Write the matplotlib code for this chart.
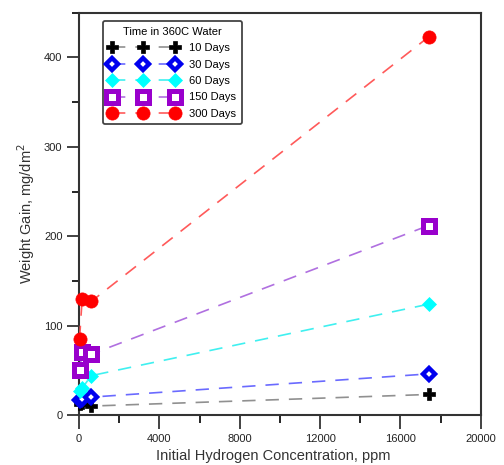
import matplotlib.pyplot as plt
from matplotlib.ticker import MultipleLocator

plt.rcParams['font.family'] = ['Liberation Sans', 'DejaVu Sans']

# initial hydrogen concentration, ppm
h_conc = [20, 150, 600, 17400]

# weight gain, mg/dm2, per exposure time
gain_10 = [12, 13, 10, 23]
gain_30 = [17, 18, 20, 46]
gain_60 = [27, 30, 44, 124]
gain_150 = [50, 70, 68, 212]
gain_300 = [85, 130, 127, 423]

labels = ['10 Days', '30 Days', '60 Days', '150 Days', '300 Days']

fig = plt.figure(figsize=(5.04, 4.65), dpi=100)
ax = fig.add_axes([0.157, 0.1075, 0.797, 0.865])

styles = [
    dict(color='#909090', marker='P', ms=9, mfc='black', mec='black', mew=0.5),
    dict(color='#6a6aff', marker='D', ms=6.5, mfc='white', mec='#0000ee', mew=3.2),
    dict(color='#40f0f0', marker='D', ms=7, mfc='#00ffff', mec='#00ffff', mew=0.5),
    dict(color='#b070e0', marker='s', ms=8.5, mfc='white', mec='#9900cc', mew=3.6),
    dict(color='#ff5a5a', marker='o', ms=9.5, mfc='#ff0000', mec='#ff0000', mew=0.5),
]

series = [gain_10, gain_30, gain_60, gain_150, gain_300]
for vals, lab, st in zip(series, labels, styles):
    ax.plot(h_conc, vals, linestyle=(0, (8, 6)), lw=1.2, label=lab,
            clip_on=False, zorder=3, **st)

ax.set_xlim(0, 20000)
ax.set_ylim(0, 450)
ax.xaxis.set_major_locator(MultipleLocator(4000))
ax.xaxis.set_minor_locator(MultipleLocator(2000))
ax.yaxis.set_major_locator(MultipleLocator(100))
ax.yaxis.set_minor_locator(MultipleLocator(50))
ax.tick_params(which='major', direction='out', length=10, width=1.2, labelsize=8, colors='#222222')
ax.tick_params(which='minor', direction='out', length=5, width=1.2)
ax.tick_params(axis='x', which='minor', length=5.5)
ax.tick_params(axis='y', which='major', length=9, pad=3)
for s in ax.spines.values():
    s.set_linewidth(1.5)
    s.set_color('#333333')

ax.set_xlabel('Initial Hydrogen Concentration, ppm', fontsize=10.5, color='#333333', labelpad=0)
ax.xaxis.set_label_coords(0.483, -0.085)
ax.set_ylabel('Weight Gain, mg/dm$^2$', fontsize=10.5, color='#333333', labelpad=5)

leg = ax.legend(loc='upper left', bbox_to_anchor=(0.045, 0.993), numpoints=3,
                handlelength=6.3, fontsize=8, title='Time in 360C Water',
                title_fontsize=8, fancybox=True, framealpha=1,
                edgecolor='#444444', labelspacing=0.58, handletextpad=1.0,
                borderpad=0.5)
leg.get_frame().set_linewidth(1.3)

plt.savefig('out.png', dpi=100)
